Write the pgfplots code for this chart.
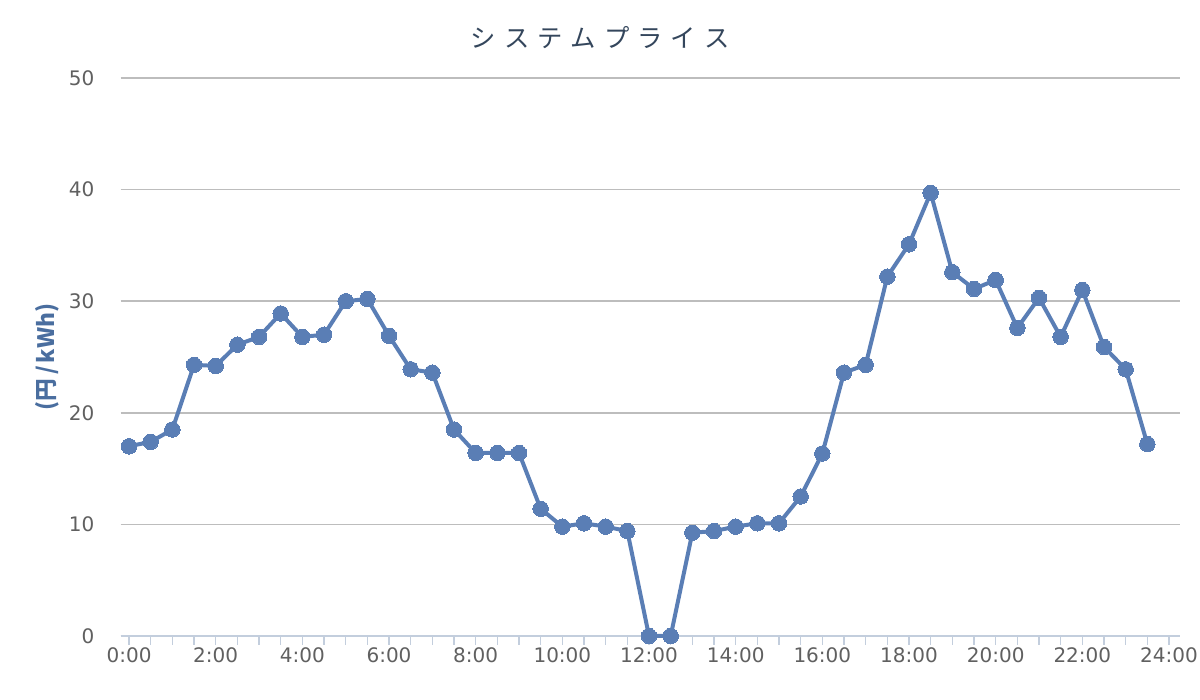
\documentclass[border=0pt]{standalone}
\usepackage{fontspec}
\setmainfont{DejaVu Sans}
\newfontfamily\jp{Noto Sans CJK JP}
\usepackage{pgfplots}
\pgfplotsset{compat=1.18}
\definecolor{lineblue}{HTML}{5A7EB5}
\definecolor{labelblue}{HTML}{4A6E9F}
\definecolor{titlec}{HTML}{34465C}
\definecolor{tickc}{HTML}{606060}
\definecolor{gridc}{HTML}{BDBDBD}
\definecolor{axisc}{HTML}{C3CEDD}
\begin{document}
\begin{tikzpicture}
\path[use as bounding box] (0,0) rectangle (900pt,525pt);
\begin{axis}[
  at={(90.4pt,48pt)}, anchor=south west,
  scale only axis, width=794.6pt, height=418.5pt,
  xmin=-0.196, xmax=24.254, ymin=0, ymax=50,
  axis x line*=bottom, axis y line*=left,
  y axis line style={draw=none},
  x axis line style={draw=axisc, line width=1.5pt, -},
  xtick={0,2,...,24},
  xticklabels={0:00,2:00,4:00,6:00,8:00,10:00,12:00,14:00,16:00,18:00,20:00,22:00,24:00},
  minor xtick={0,0.5,...,24},
  tick align=outside,
  major tick length=6.5pt, minor tick length=6.5pt,
  xtick style={draw=axisc, line width=1.2pt},
  minor tick style={draw=axisc, line width=1.2pt},
  ytick={0,10,...,50},
  ytick style={draw=none},
  /pgf/number format/assume math mode=true,
  ymajorgrids,
  grid style={draw=gridc, line width=1.1pt},
  tick label style={font=\fontsize{15}{18}\selectfont, text=tickc},
  xticklabel style={inner sep=0pt, anchor=north, yshift=-1.8pt},
  yticklabel style={inner sep=0pt, anchor=east, xshift=-13pt},
  title={\jp\fontsize{19}{22}\selectfont シ\hspace{6pt}ス\hspace{6pt}テ\hspace{6pt}ム\hspace{6pt}プ\hspace{6pt}ラ\hspace{6pt}イ\hspace{6pt}ス},
  title style={at={(axis description cs:0.5,1)}, anchor=center, yshift=24pt, xshift=-37.5pt, text=titlec},
  ylabel={\jp\bfseries\fontsize{17}{20}\selectfont (円\hspace{3pt}/\hspace{2pt}kWh)},
  ylabel style={at={(axis description cs:0,0.5)}, anchor=center, rotate=0, yshift=55pt, text=labelblue},
  clip=false,
]
\addplot[color=lineblue, line width=3pt, mark=*, mark size=5.8pt, mark options={fill=lineblue, draw=lineblue, line width=0pt}]
coordinates {
(0,17.0) (0.5,17.4) (1,18.5) (1.5,24.3) (2,24.2) (2.5,26.1) (3,26.8) (3.5,28.9)
(4,26.8) (4.5,27.0) (5,30.0) (5.5,30.2) (6,26.9) (6.5,23.9) (7,23.6) (7.5,18.5)
(8,16.4) (8.5,16.4) (9,16.4) (9.5,11.4) (10,9.8) (10.5,10.1) (11,9.8) (11.5,9.4)
(12,0.0) (12.5,0.0) (13,9.25) (13.5,9.4) (14,9.8) (14.5,10.1) (15,10.1) (15.5,12.5)
(16,16.35) (16.5,23.6) (17,24.3) (17.5,32.2) (18,35.1) (18.5,39.7) (19,32.6) (19.5,31.1)
(20,31.9) (20.5,27.6) (21,30.3) (21.5,26.8) (22,31.0) (22.5,25.9) (23,23.9) (23.5,17.2)
};
\end{axis}
\end{tikzpicture}
\end{document}
